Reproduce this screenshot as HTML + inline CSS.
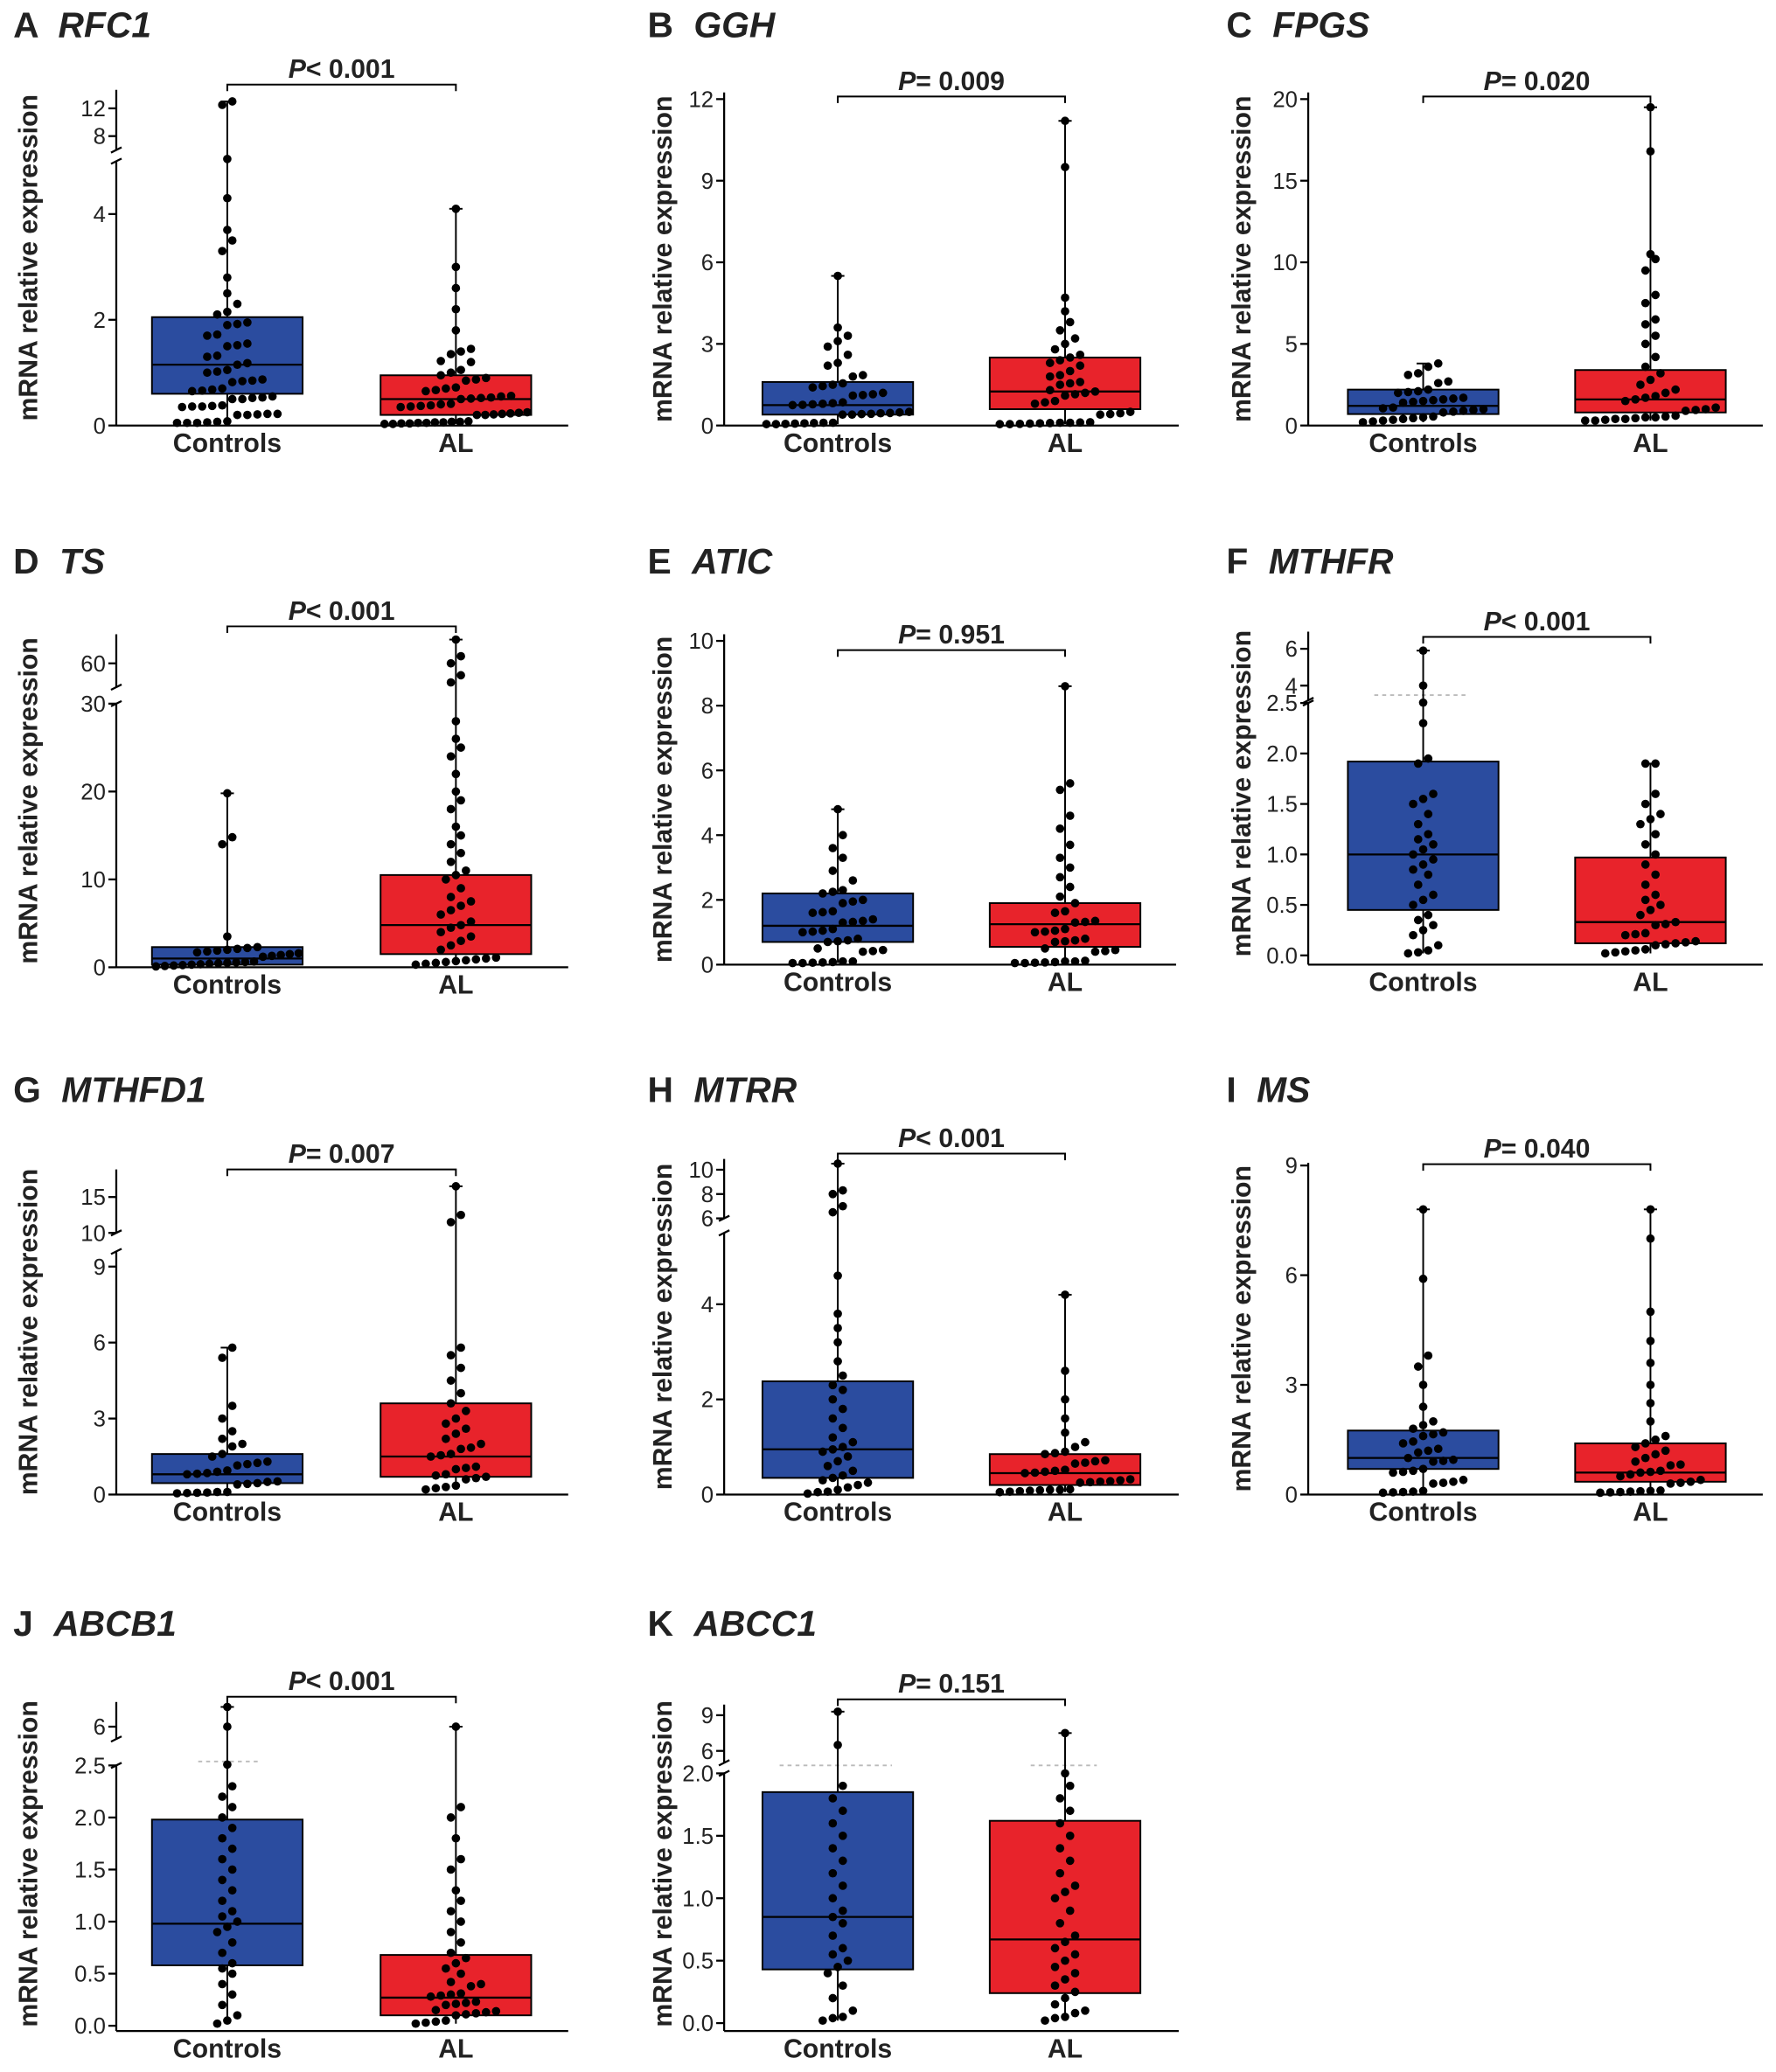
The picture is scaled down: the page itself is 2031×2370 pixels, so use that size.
<!DOCTYPE html>
<html><head><meta charset="utf-8">
<style>
html,body{margin:0;padding:0;background:#fff;}
svg{display:block;font-family:"Liberation Sans",Arial,sans-serif;}
</style></head>
<body>
<svg id="fig" width="2031" height="2370" viewBox="0 0 1344 1568" preserveAspectRatio="none" xmlns="http://www.w3.org/2000/svg"></svg>
<script>
// ---- Data (estimated) ----
const categories = ["Controls", "AL"];
const A_controls = [0.05,0.05,0.05,0.06,0.07,0.08,0.2,0.2,0.21,0.22,0.22,0.35,0.36,0.36,0.37,0.38,0.5,0.5,0.52,0.53,0.55,0.65,0.66,0.68,0.7,0.82,0.84,0.85,0.87,1.0,1.02,1.05,1.15,1.18,1.3,1.32,1.5,1.52,1.55,1.7,1.72,1.9,1.92,1.95,2.1,2.15,2.3,2.5,2.8,3.3,3.5,3.7,4.3,5.2,12.5,13];
const A_al = [0.03,0.03,0.04,0.04,0.05,0.05,0.06,0.06,0.07,0.07,0.08,0.2,0.2,0.21,0.22,0.23,0.24,0.25,0.35,0.36,0.37,0.38,0.4,0.41,0.5,0.51,0.52,0.53,0.55,0.56,0.65,0.67,0.7,0.72,0.85,0.87,0.9,0.95,1.0,1.05,1.2,1.22,1.35,1.4,1.45,1.8,2.2,2.6,3.0,4.1];
const A_box = [[0.6,1.15,2.05],[0.2,0.5,0.95]];
const B_controls = [0.05,0.05,0.06,0.07,0.08,0.09,0.1,0.1,0.4,0.4,0.42,0.43,0.45,0.46,0.48,0.5,0.75,0.76,0.78,0.8,0.82,0.85,1.1,1.12,1.15,1.2,1.4,1.45,1.5,1.55,1.8,1.85,2.2,2.3,2.6,2.9,3.1,3.3,3.6,5.5];
const B_al = [0.05,0.05,0.06,0.07,0.08,0.09,0.1,0.1,0.11,0.12,0.4,0.42,0.45,0.5,0.8,0.85,0.9,1.1,1.15,1.2,1.25,1.3,1.5,1.55,1.6,1.8,1.85,2.0,2.2,2.3,2.4,2.5,2.6,2.8,3.0,3.2,3.5,3.8,4.2,4.7,9.5,11.2];
const B_box = [[0.4,0.75,1.6],[0.6,1.25,2.5]];
const C_controls = [0.2,0.25,0.3,0.35,0.4,0.45,0.5,0.55,0.8,0.85,0.9,0.95,1.0,1.05,1.1,1.4,1.45,1.5,1.55,1.6,1.65,1.7,2.0,2.05,2.1,2.2,2.6,2.7,3.1,3.2,3.6,3.8];
const C_al = [0.3,0.3,0.35,0.4,0.4,0.45,0.5,0.5,0.55,0.6,0.9,0.95,1.0,1.1,1.5,1.6,1.7,1.8,2.0,2.2,2.5,2.8,3.2,3.6,4.2,5.0,5.5,6.2,6.5,7.5,8.0,9.5,10.2,10.5,16.8,19.5];
const C_box = [[0.7,1.2,2.2],[0.8,1.6,3.4]];
const D_controls = [0.1,0.15,0.2,0.25,0.3,0.35,0.4,0.45,0.5,0.55,0.6,0.65,1.2,1.3,1.4,1.5,1.6,1.7,1.8,1.9,2.0,2.1,2.2,2.3,3.5,14.0,14.8,19.8];
const D_al = [0.3,0.4,0.5,0.6,0.7,0.8,0.9,1.0,1.1,2.0,2.5,3.0,3.5,4.0,4.5,4.8,5.2,6.0,6.5,7.0,7.5,8.0,9.0,10.0,10.5,11.0,12.0,13,14,15,16,18,19,20,22,24,25,26,28,52,55,60,63,70];
const D_box = [[0.3,1.0,2.3],[1.5,4.8,10.5]];
const E_controls = [0.05,0.05,0.06,0.07,0.08,0.1,0.1,0.4,0.42,0.45,0.5,0.7,0.72,0.75,0.8,1.0,1.02,1.05,1.1,1.3,1.32,1.35,1.4,1.6,1.62,1.65,1.9,1.95,2.0,2.2,2.25,2.3,2.6,2.9,3.3,3.6,4.0,4.8];
const E_al = [0.05,0.05,0.06,0.07,0.08,0.1,0.1,0.12,0.4,0.42,0.45,0.5,0.7,0.72,0.75,0.8,1.0,1.02,1.05,1.1,1.3,1.32,1.35,1.6,1.65,1.9,2.1,2.4,2.7,3.0,3.3,3.7,4.2,4.6,5.4,5.6,8.6];
const E_box = [[0.7,1.2,2.2],[0.55,1.25,1.9]];
const F_controls = [0.02,0.03,0.05,0.1,0.2,0.25,0.3,0.35,0.4,0.5,0.55,0.6,0.7,0.8,0.85,0.9,0.95,1.0,1.05,1.1,1.15,1.2,1.3,1.4,1.5,1.55,1.6,1.9,1.95,2.3,2.6,4.0,5.9];
const F_al = [0.02,0.03,0.04,0.05,0.06,0.1,0.11,0.12,0.13,0.14,0.2,0.21,0.22,0.3,0.31,0.33,0.4,0.45,0.5,0.55,0.6,0.7,0.8,0.9,1.0,1.1,1.2,1.3,1.35,1.4,1.5,1.6,1.9,1.9];
const F_box = [[0.45,1.0,1.92],[0.12,0.33,0.97]];
const G_controls = [0.05,0.06,0.07,0.08,0.1,0.1,0.4,0.42,0.45,0.5,0.52,0.8,0.82,0.85,0.9,0.95,1.15,1.2,1.25,1.3,1.5,1.6,1.9,2.0,2.2,2.5,3.0,3.5,5.4,5.8];
const G_al = [0.2,0.25,0.3,0.35,0.6,0.65,0.7,0.75,0.8,1.0,1.05,1.1,1.5,1.55,1.6,1.8,1.85,2.0,2.2,2.4,2.6,2.8,3.0,3.3,3.6,4.0,4.5,5.0,5.5,5.8,11.5,12.5,16.5];
const G_box = [[0.45,0.8,1.6],[0.7,1.5,3.6]];
const H_controls = [0.02,0.05,0.06,0.1,0.15,0.2,0.25,0.3,0.35,0.4,0.5,0.6,0.7,0.8,0.9,0.95,1.0,1.1,1.2,1.4,1.6,1.8,2.0,2.2,2.3,2.5,2.8,3.2,3.5,3.8,4.6,6.5,7.0,8.0,8.3,10.5];
const H_al = [0.05,0.06,0.07,0.08,0.09,0.1,0.1,0.11,0.25,0.26,0.27,0.28,0.3,0.32,0.45,0.46,0.48,0.5,0.52,0.65,0.67,0.7,0.72,0.85,0.87,0.9,1.0,1.1,1.3,1.6,2.0,2.6,4.2];
const H_box = [[0.35,0.95,2.38],[0.2,0.45,0.85]];
const I_controls = [0.05,0.06,0.07,0.08,0.1,0.3,0.32,0.35,0.4,0.6,0.62,0.65,0.7,0.9,0.92,0.95,1.0,1.15,1.2,1.25,1.4,1.45,1.6,1.65,1.7,1.8,1.9,2.0,2.4,3.0,3.5,3.8,5.9,7.8];
const I_al = [0.05,0.06,0.07,0.08,0.09,0.1,0.11,0.3,0.32,0.35,0.4,0.5,0.55,0.6,0.62,0.65,0.8,0.82,0.9,1.0,1.1,1.2,1.3,1.4,1.5,1.6,2.0,2.5,3.0,3.6,4.2,5.0,7.0,7.8];
const I_box = [[0.7,1.0,1.75],[0.35,0.6,1.4]];
const J_controls = [0.02,0.05,0.1,0.2,0.3,0.4,0.5,0.55,0.6,0.7,0.8,0.9,0.95,1.0,1.05,1.1,1.2,1.3,1.4,1.5,1.6,1.7,1.8,1.9,2.0,2.1,2.2,2.3,2.6,6.0,6.8];
const J_al = [0.02,0.03,0.04,0.05,0.1,0.11,0.12,0.13,0.14,0.15,0.2,0.21,0.22,0.23,0.28,0.29,0.3,0.31,0.38,0.4,0.42,0.5,0.55,0.6,0.65,0.7,0.8,0.9,1.0,1.1,1.2,1.3,1.5,1.6,1.8,2.0,2.1,6.0];
const J_box = [[0.58,0.98,1.98],[0.1,0.27,0.68]];
const K_controls = [0.02,0.04,0.05,0.1,0.2,0.3,0.4,0.45,0.5,0.55,0.6,0.7,0.8,0.85,0.9,1.0,1.1,1.2,1.3,1.4,1.5,1.6,1.7,1.8,1.9,6.5,9.3];
const K_al = [0.02,0.04,0.05,0.08,0.1,0.15,0.2,0.25,0.3,0.35,0.4,0.45,0.5,0.55,0.6,0.65,0.7,0.8,0.9,1.0,1.05,1.1,1.2,1.3,1.4,1.5,1.6,1.7,1.8,1.9,2.0,7.5];
const K_box = [[0.43,0.85,1.85],[0.24,0.67,1.62]];
const pLabels = ["P< 0.001","P= 0.009","P= 0.020","P< 0.001","P= 0.951","P< 0.001","P= 0.007","P< 0.001","P= 0.040","P< 0.001","P= 0.151"];
const genes = ["RFC1","GGH","FPGS","TS","ATIC","MTHFR","MTHFD1","MTRR","MS","ABCB1","ABCC1"];
const letters = ["A","B","C","D","E","F","G","H","I","J","K"];
const tickA=[0,2,4,8,12], tickB=[0,3,6,9,12], tickC=[0,5,10,15,20], tickD=[0,10,20,30,60], tickE=[0,2,4,6,8,10];
const tickF=[0,0.5,1,1.5,2,2.5,4,6], tickG=[0,3,6,9,10,15], tickH=[0,2,4,6,8,10], tickI=[0,3,6,9];
const tickJ=[0,0.5,1,1.5,2,2.5,6], tickK=[0,0.5,1,1.5,2,6,9];

// ---- Layout (pixel geometry, not data) ----
const layouts = [
 {ax:88,xe:430,base:322,top:68,c:[172,345],segs:[[0,5,322,122],[6,14,113.5,71.5]],pY:64,ty:28,lx:22,ctrl:A_controls,al:A_al,box:A_box,ticks:tickA,dec:0},
 {ax:548,xe:892,base:322,top:70,c:[634,806],segs:[[0,12,322,75]],pY:73,ty:28,lx:502,ctrl:B_controls,al:B_al,box:B_box,ticks:tickB,dec:0},
 {ax:990,xe:1334,base:322,top:70,c:[1077,1249],segs:[[0,20,322,75]],pY:73,ty:28,lx:940,ctrl:C_controls,al:C_al,box:C_box,ticks:tickC,dec:0},
 {ax:88,xe:430,base:732,top:480,c:[172,345],segs:[[0,30,732,532.5],[50,72,520,480.4]],pY:474,ty:434,lx:22,ctrl:D_controls,al:D_al,box:D_box,ticks:tickD,dec:0},
 {ax:548,xe:890,base:730,top:480,c:[634,806],segs:[[0,10,730,485]],pY:492,ty:434,lx:502,ctrl:E_controls,al:E_al,box:E_box,ticks:tickE,dec:0},
 {ax:990,xe:1334,base:730,top:478,c:[1077,1249],segs:[[0,2.5,723,532],[3.2,6.5,530,484]],pY:482,ty:434,lx:940,ctrl:F_controls,al:F_al,box:F_box,ticks:tickF,dec:1,dash:[526,[1040,1110]]},
 {ax:88,xe:430,base:1131,top:885,c:[172,345],segs:[[0,9.6,1131,947],[10,17,933,895]],pY:885,ty:834,lx:22,ctrl:G_controls,al:G_al,box:G_box,ticks:tickG,dec:0},
 {ax:548,xe:892,base:1131,top:877,c:[634,806],segs:[[0,5.5,1131,933],[6,11,922,876]],pY:873,ty:834,lx:502,ctrl:H_controls,al:H_al,box:H_box,ticks:tickH,dec:0},
 {ax:990,xe:1334,base:1131,top:880,c:[1077,1249],segs:[[0,9,1131,882]],pY:881,ty:834,lx:940,ctrl:I_controls,al:I_al,box:I_box,ticks:tickI,dec:0},
 {ax:88,xe:430,base:1537,top:1288,c:[172,345],segs:[[0,2.5,1533,1336],[5.5,7,1316,1288]],pY:1284,ty:1238,lx:22,ctrl:J_controls,al:J_al,box:J_box,ticks:tickJ,dec:1,dash:[1333,[150,195]]},
 {ax:548,xe:892,base:1537,top:1290,c:[634,806],segs:[[0,2,1531,1342],[5,10,1334,1289]],pY:1286,ty:1238,lx:502,ctrl:K_controls,al:K_al,box:K_box,ticks:tickK,dec:1,dash:[1336,[590,675]],dash2:[1336,[780,830]]}
];
const colors = ["#2b4c9f","#e8232b"];
const NS="http://www.w3.org/2000/svg";
const svg=document.getElementById('fig');
function mk(tag,attrs,parent){const e=document.createElementNS(NS,tag);for(const k in attrs)e.setAttribute(k,attrs[k]);(parent||svg).appendChild(e);return e;}
function makeScale(segs){
  return function(v){
    const s0=segs[0];
    if(segs.length===1||v<=s0[1]) return s0[2]+(v-s0[0])/(s0[1]-s0[0])*(s0[3]-s0[2]);
    const s1=segs[1];
    if(v>=s1[0]) return s1[2]+(v-s1[0])/(s1[1]-s1[0])*(s1[3]-s1[2]);
    return s0[3]+(v-s0[1])/(s1[0]-s0[1])*(s1[2]-s0[3]);
  };
}
function swarm(values,cx,y,r){
  const sorted=values.slice().sort((a,b)=>a-b);
  const bins=[];let cur=null;
  sorted.forEach(v=>{
    const py=y(v);
    if(!cur||Math.abs(py-cur.y0)>10){cur={y0:py,pts:[]};bins.push(cur);}
    cur.pts.push(py);
  });
  const out=[];
  bins.forEach(b=>{
    const n=b.pts.length;
    const dx=n>1?Math.min(r*2+1.2,108/(n-1)):0;
    b.pts.forEach((py,k)=>{out.push([cx+(k-(n-1)/2)*dx,py]);});
  });
  return out;
}
layouts.forEach((L,i)=>{
  const g=mk('g',{});
  
  
  const y=makeScale(L.segs);
  const y0=y(0);
  const t=mk('text',{x:L.lx-12,y:L.ty,'font-size':27,'font-weight':'bold',fill:'#222'},g);
  
  
  t.textContent=letters[i]+'  ';
  const ts=mk('tspan',{'font-style':'italic',dx:8},t);ts.textContent=genes[i];
  const mid=(y0+L.top)/2;
  const yl=mk('text',{x:L.lx,y:mid,'font-size':20,'font-weight':'bold','text-anchor':'middle',fill:'#222',transform:`rotate(-90 ${L.lx} ${mid})`,'dominant-baseline':'central'},g);
  
  
  yl.textContent='mRNA relative expression';
  if(L.segs.length===2){
    mk('line',{x1:L.ax,y1:L.base,x2:L.ax,y2:L.segs[0][3],stroke:'#000','stroke-width':1.5},g);
    mk('line',{x1:L.ax,y1:L.segs[1][2],x2:L.ax,y2:L.top,stroke:'#000','stroke-width':1.5},g);
    mk('line',{x1:L.ax-4,y1:L.segs[0][3]+2,x2:L.ax+4,y2:L.segs[0][3]-2,stroke:'#000','stroke-width':1.5},g);
    mk('line',{x1:L.ax-4,y1:L.segs[1][2]+2,x2:L.ax+4,y2:L.segs[1][2]-2,stroke:'#000','stroke-width':1.5},g);
  } else {
    mk('line',{x1:L.ax,y1:L.base,x2:L.ax,y2:L.top,stroke:'#000','stroke-width':1.5},g);
  }
  const xa=mk('line',{x1:L.ax,y1:L.base,x2:L.xe,y2:L.base,stroke:'#000','stroke-width':1.5},g);
  
  
  L.ticks.forEach(v=>{
    const ty=y(v);
    mk('line',{x1:L.ax-6,y1:ty,x2:L.ax,y2:ty,stroke:'#000','stroke-width':1.5},g);
    const tl=mk('text',{x:L.ax-8,y:ty+6,'font-size':17,'text-anchor':'end',fill:'#222'},g);
    
    
    tl.textContent=(L.dec&&v<3)?v.toFixed(1):String(v);
  });
  if(L.dash) mk('line',{x1:L.dash[1][0],y1:L.dash[0],x2:L.dash[1][1],y2:L.dash[0],stroke:'#bbb','stroke-dasharray':'3,3','stroke-width':1.2},g);
  if(L.dash2) mk('line',{x1:L.dash2[1][0],y1:L.dash2[0],x2:L.dash2[1][1],y2:L.dash2[0],stroke:'#bbb','stroke-dasharray':'3,3','stroke-width':1.2},g);
  [L.ctrl,L.al].forEach((vals,j)=>{
    const cx=L.c[j];const b=L.box[j];
    const mn=Math.min(...vals),mx=Math.max(...vals);
    mk('line',{x1:cx,y1:y(mn),x2:cx,y2:y(mx),stroke:'#000','stroke-width':1.3},g);
    mk('line',{x1:cx-5,y1:y(mx),x2:cx+5,y2:y(mx),stroke:'#000','stroke-width':1.3},g);
    const bx=mk('rect',{x:cx-57,y:y(b[2]),width:114,height:y(b[0])-y(b[2]),fill:colors[j],stroke:'#000','stroke-width':1.3},g);
    
    
    mk('line',{x1:cx-57,y1:y(b[1]),x2:cx+57,y2:y(b[1]),stroke:'#000','stroke-width':1.5},g);
    swarm(vals,cx,y,3.2).forEach(p=>{
      const c=mk('circle',{cx:p[0],cy:p[1],r:3.2,fill:'#000'},g);
      
      
    });
    const cl=mk('text',{x:cx,y:L.base+20,'font-size':20,'font-weight':'bold','text-anchor':'middle',fill:'#222'},g);
    
    
    cl.textContent=categories[j];
  });
  mk('path',{d:`M${L.c[0]} ${L.pY+5}V${L.pY}H${L.c[1]}V${L.pY+5}`,fill:'none',stroke:'#000','stroke-width':1.3},g);
  const pt=mk('text',{x:(L.c[0]+L.c[1])/2,y:L.pY-5,'font-size':20,'font-weight':'bold','text-anchor':'middle',fill:'#222'},g);
  
  
  const pp=mk('tspan',{'font-style':'italic'},pt);pp.textContent='P';
  pt.appendChild(document.createTextNode(pLabels[i].slice(1)));
});
</script>
</body></html>
